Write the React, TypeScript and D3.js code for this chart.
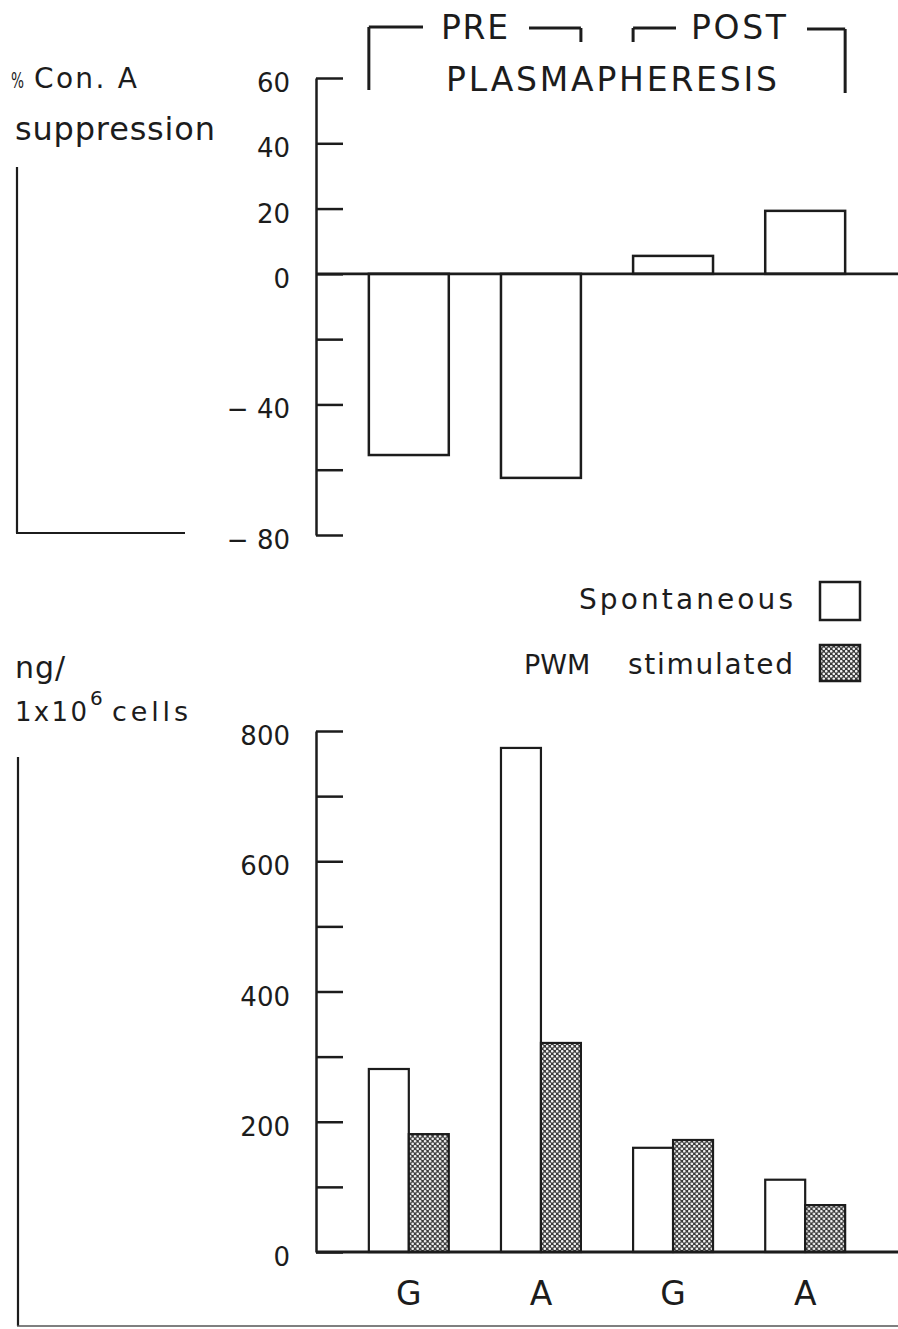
import React, { useRef, useEffect } from 'react'
import * as d3 from 'd3'

// groups along the x axis (pre / post plasmapheresis, IgG / IgA)
const groups = ['pre-G', 'pre-A', 'post-G', 'post-A']
const groupLabels = ['G', 'A', 'G', 'A']

// top panel: % Con. A suppression
const conA = [-55.5, -62.5, 5.5, 19.3]
const topTicks = [-80, -60, -40, -20, 0, 20, 40, 60]
const topTickLabels = ['\u2212 80', '', '\u2212 40', '', '0', '20', '40', '60']

// bottom panel: ng / 1x10^6 cells
const series = ['Spontaneous', 'PWM stimulated']
const spontaneous = [281, 774, 160, 111]
const pwm = [181, 321, 172, 72]
const bottomTicks = [0, 100, 200, 300, 400, 500, 600, 700, 800]
const bottomTickLabels = ['0', '', '200', '', '400', '', '600', '', '800']

const W = 898
const H = 1329
const font = '"DejaVu Sans", sans-serif'
const ink = '#1c1c1c'

export default function App() {
  const svgRef = useRef<SVGSVGElement>(null)

  useEffect(() => {
    const svg = d3.select(svgRef.current)
    svg.selectAll('*').remove()

    // stipple fill for PWM bars
    const pat = svg.append('defs').append('pattern')
      .attr('id', 'stipple')
      .attr('patternUnits', 'userSpaceOnUse')
      .attr('width', 5)
      .attr('height', 5)
    pat.append('rect').attr('width', 5).attr('height', 5).attr('fill', '#3a3a3a')
    pat.append('circle').attr('cx', 1.25).attr('cy', 1.25).attr('r', 1.3).attr('fill', '#f4f4f4')
    pat.append('circle').attr('cx', 3.75).attr('cy', 3.75).attr('r', 1.3).attr('fill', '#f4f4f4')

    const text = (t: string, x: number, y: number, size: number, len?: number, anchor = 'start') => {
      const el = svg.append('text')
        .attr('x', x).attr('y', y)
        .attr('font-family', font)
        .attr('font-size', size)
        .attr('fill', ink)
        .attr('text-anchor', anchor)
        .text(t)
      if (len) el.attr('textLength', len).attr('lengthAdjust', 'spacing')
      return el
    }
    const line = (x1: number, y1: number, x2: number, y2: number, w = 2.5) =>
      svg.append('line')
        .attr('x1', x1).attr('y1', y1).attr('x2', x2).attr('y2', y2)
        .attr('stroke', ink).attr('stroke-width', w)

    // scales
    const x = d3.scaleBand<string>()
      .domain(groups)
      .range([316, W])
      .paddingInner(0.395)
      .paddingOuter(0.4)
    const sub = d3.scaleBand<string>()
      .domain(series)
      .range([0, x.bandwidth()])
    const yTop = d3.scaleLinear().domain([-80, 60]).range([535, 78])
    const yBot = d3.scaleLinear().domain([0, 800]).range([1252, 731])

    const styleAxis = (g: d3.Selection<SVGGElement, unknown, null, undefined>) => {
      g.attr('color', ink)
      g.select('.domain').attr('stroke-width', 2.5)
      g.selectAll('.tick line').attr('stroke-width', 2.5)
      g.selectAll('.tick text')
        .attr('font-family', font)
        .attr('font-size', 26)
        .attr('dy', '0.52em')
    }

    // ---- top panel ----
    svg.append('g')
      .selectAll('rect')
      .data(conA)
      .join('rect')
        .attr('x', (d, i) => x(groups[i])!)
        .attr('y', d => yTop(Math.max(0, d)))
        .attr('width', x.bandwidth())
        .attr('height', d => Math.abs(yTop(d) - yTop(0)))
        .attr('fill', '#fff')
        .attr('stroke', ink)
        .attr('stroke-width', 2.5)

    line(316, yTop(0), W, yTop(0), 2.8)

    const topAxis = d3.axisLeft(yTop)
      .tickValues(topTicks)
      .tickSizeInner(-27)
      .tickSizeOuter(0)
      .tickPadding(26)
      .tickFormat(d => topTickLabels[topTicks.indexOf(+d)])
    svg.append('g')
      .attr('transform', 'translate(316,0)')
      .call(topAxis)
      .call(styleAxis)

    // PRE / POST brackets
    const preL = x('pre-G')!
    const preR = x('pre-A')! + x.bandwidth()
    const postL = x('post-G')!
    const postR = x('post-A')! + x.bandwidth()
    line(preL, 27, preL, 90, 3)
    line(preL, 27, 423, 27, 3)
    line(529, 28, preR, 28, 3)
    line(preR, 28, preR, 42, 3)
    line(postL, 28, postL, 42, 3)
    line(postL, 28, 676, 28, 3)
    line(807, 29, postR, 29, 3)
    line(postR, 29, postR, 93, 3)
    text('PRE', 441, 39, 33, 67)
    text('POST', 691, 39, 33, 95)
    text('PLASMAPHERESIS', 446, 91, 33, 331)

    // left label + frame
    text('%', 11, 88, 22, 13).attr('lengthAdjust', 'spacingAndGlyphs')
    text('Con. A', 34, 88, 28, 103)
    text('suppression', 15, 140, 32, 200)
    line(17, 167, 17, 533, 2.2)
    line(16, 533, 185, 533, 2.2)

    // ---- legend ----
    text('Spontaneous', 579, 609, 28, 214)
    text('PWM', 524, 674, 27)
    text('stimulated', 628, 674, 28, 165)
    svg.append('rect')
      .attr('x', 820).attr('y', 582).attr('width', 40).attr('height', 38)
      .attr('fill', '#fff').attr('stroke', ink).attr('stroke-width', 2.5)
    svg.append('rect')
      .attr('x', 820).attr('y', 645).attr('width', 40).attr('height', 36)
      .attr('fill', 'url(#stipple)').attr('stroke', ink).attr('stroke-width', 2.5)

    // ---- bottom panel ----
    const rows = groups.map((g, i) => ({ g, values: [spontaneous[i], pwm[i]] }))
    svg.append('g')
      .selectAll('g')
      .data(rows)
      .join('g')
        .attr('transform', d => `translate(${x(d.g)},0)`)
      .selectAll('rect')
      .data(d => d.values.map((v, j) => ({ key: series[j], v })))
      .join('rect')
        .attr('x', d => sub(d.key)!)
        .attr('y', d => yBot(d.v))
        .attr('width', sub.bandwidth())
        .attr('height', d => yBot(0) - yBot(d.v))
        .attr('fill', d => d.key === 'Spontaneous' ? '#fff' : 'url(#stipple)')
        .attr('stroke', ink)
        .attr('stroke-width', 2.2)

    line(316, yBot(0), W, yBot(0), 2.8)

    const botAxis = d3.axisLeft(yBot)
      .tickValues(bottomTicks)
      .tickSizeInner(-27)
      .tickSizeOuter(0)
      .tickPadding(26)
      .tickFormat(d => bottomTickLabels[bottomTicks.indexOf(+d)])
    svg.append('g')
      .attr('transform', 'translate(316,0)')
      .call(botAxis)
      .call(styleAxis)

    svg.append('g')
      .selectAll('text')
      .data(groups)
      .join('text')
        .attr('x', d => x(d)! + x.bandwidth() / 2)
        .attr('y', 1305)
        .attr('text-anchor', 'middle')
        .attr('font-family', font)
        .attr('font-size', 33)
        .attr('fill', ink)
        .text((d, i) => groupLabels[i])

    // left label + frame
    text('ng/', 15, 678, 30, 50)
    text('1x10', 15, 721, 26, 72)
    text('6', 90, 705, 20)
    text('cells', 112, 721, 27, 76)
    line(18, 757, 18, 1326, 2.2)
    line(17, 1326, W, 1326, 1.6).attr('stroke', '#555')
  }, [])

  return (
    <svg
      ref={svgRef}
      width={W}
      height={H}
      style={{ position: 'absolute', left: 0, top: 0, background: '#fff' }}
    />
  )
}
